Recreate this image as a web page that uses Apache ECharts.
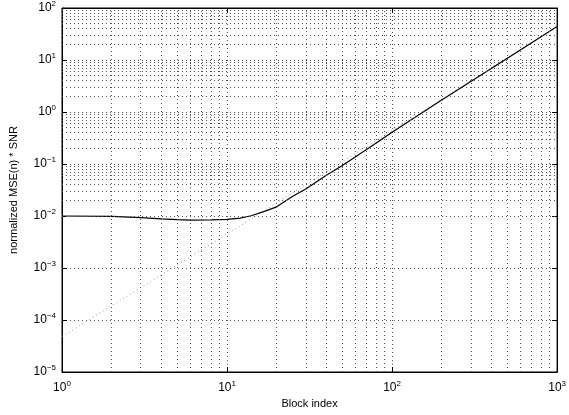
<!DOCTYPE html>
<html>
<head>
<meta charset="utf-8">
<script src="https://cdn.jsdelivr.net/npm/echarts@6/dist/echarts.min.js"></script>
<style>
  html, body { margin: 0; padding: 0; background: #fff; }
  #main { width: 569px; height: 415px; }
</style>
</head>
<body>
<div id="main"></div>
<script>
// values
var blockIdx = [1, 2, 3, 4, 5, 6, 8, 10, 12, 14, 17, 20, 25, 30, 40, 50, 70, 100, 200, 500, 1000];
var mseSnr = [0.0100, 0.0098, 0.0093, 0.0088, 0.0085, 0.0083, 0.0084, 0.0086, 0.0091,
              0.0101, 0.0124, 0.0150, 0.024, 0.033, 0.061, 0.094, 0.19, 0.41, 1.7, 10.8, 44];
// dotted asymptote
var asymX = [1, 10, 100, 1000];
var asymY = [4.8e-5, 4.5e-3, 0.44, 44];

var xDecades = [1, 10, 100];
var yDecades = [1e-5, 1e-4, 1e-3, 1e-2, 1e-1, 1, 10];
var minorSteps = [2, 3, 4, 5, 6, 7, 8, 9];

var gridStyle = { color: '#555', type: [1, 3], width: 1 };

var minorLines = [];
xDecades.forEach(function (d) {
    minorSteps.forEach(function (m) { minorLines.push({ xAxis: d * m }); });
});
yDecades.forEach(function (d) {
    minorSteps.forEach(function (m) { minorLines.push({ yAxis: d * m }); });
});

function powLabel(v) {
    var e = Math.round(Math.log10(v));
    return '{b|10}{e|' + (e < 0 ? '\u2212' : '') + Math.abs(e) + '}';
}
var labelRich = {
    b: { fontSize: 12, fontFamily: 'Liberation Sans', color: '#000' },
    e: { fontSize: 8, fontFamily: 'Liberation Sans', color: '#000', padding: [0, 0, 8, 0] }
};

var chart = echarts.init(document.getElementById('main'));
var option = {
    animation: false,
    grid: {
        left: 57, right: 7, top: 6, bottom: 43,
        show: true, borderColor: '#000', borderWidth: 1
    },
    xAxis: [{
        type: 'log', logBase: 10, min: 1, max: 1000,
        name: 'Block index', nameLocation: 'middle', nameGap: 25,
        nameTextStyle: { fontSize: 11, fontFamily: 'Liberation Sans', color: '#000' },
        axisLine: { lineStyle: { color: '#000' } },
        axisTick: { inside: true, length: 5, lineStyle: { color: '#000' } },
        axisLabel: { formatter: powLabel, rich: labelRich, margin: 8 },
        splitLine: { show: true, lineStyle: gridStyle }
    }, {
        type: 'log', logBase: 10, min: 1, max: 1000, position: 'top',
        axisLine: { lineStyle: { color: '#000' } },
        axisTick: { inside: true, length: 5, lineStyle: { color: '#000' } },
        axisLabel: { show: false }, splitLine: { show: false }
    }],
    yAxis: [{
        type: 'log', logBase: 10, min: 1e-5, max: 100, splitNumber: 7,
        name: 'normalized MSE(n) * SNR', nameLocation: 'middle', nameGap: 43,
        nameTextStyle: { fontSize: 11, fontFamily: 'Liberation Sans', color: '#000' },
        axisLine: { lineStyle: { color: '#000' } },
        axisTick: { inside: true, length: 5, lineStyle: { color: '#000' } },
        axisLabel: { formatter: powLabel, rich: labelRich, margin: 6 },
        splitLine: { show: true, lineStyle: gridStyle }
    }, {
        type: 'log', logBase: 10, min: 1e-5, max: 100, splitNumber: 7, position: 'right',
        axisLine: { lineStyle: { color: '#000' } },
        axisTick: { inside: true, length: 5, lineStyle: { color: '#000' } },
        axisLabel: { show: false }, splitLine: { show: false }
    }],
    series: [
        {
            name: 'grid',
            type: 'line',
            data: [],
            silent: true,
            markLine: {
                silent: true,
                symbol: ['none', 'none'],
                label: { show: false },
                lineStyle: gridStyle,
                data: minorLines
            }
        },
        {
            name: 'asymptote',
            type: 'line',
            data: asymX.map(function (x, i) { return [x, asymY[i]]; }),
            showSymbol: false,
            lineStyle: { color: '#999', width: 1, type: [1, 3] },
            z: 3
        },
        {
            name: 'MSE',
            type: 'line',
            data: blockIdx.map(function (x, i) { return [x, mseSnr[i]]; }),
            showSymbol: false,
            lineStyle: { color: '#000', width: 1.2 },
            z: 4
        }
    ]
};
chart.setOption(option);
window.addEventListener('resize', function () {
    chart.resize();
});
</script>
</body>
</html>
